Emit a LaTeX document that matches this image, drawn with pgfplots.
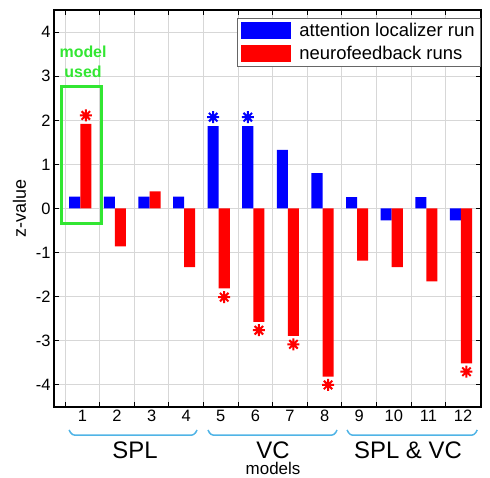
\documentclass[border=0pt]{standalone}
\usepackage{pgfplots}
\pgfplotsset{compat=1.18}
\usepackage{fontspec}
\setmainfont{Liberation Sans}

\definecolor{barblue}{RGB}{0,0,255}
\definecolor{barred}{RGB}{255,0,0}
\definecolor{boxgreen}{RGB}{50,230,50}
\definecolor{bracecyan}{RGB}{80,180,230}
\definecolor{gridgray}{RGB}{215,215,215}

% matlab-like 8-spoke asterisk
\pgfdeclareplotmark{matstar}{%
  \pgfpathmoveto{\pgfqpoint{\pgfplotmarksize}{0pt}}%
  \pgfpathlineto{\pgfqpoint{-\pgfplotmarksize}{0pt}}%
  \pgfpathmoveto{\pgfqpoint{0pt}{\pgfplotmarksize}}%
  \pgfpathlineto{\pgfqpoint{0pt}{-\pgfplotmarksize}}%
  \pgfpathmoveto{\pgfqpoint{.7071\pgfplotmarksize}{.7071\pgfplotmarksize}}%
  \pgfpathlineto{\pgfqpoint{-.7071\pgfplotmarksize}{-.7071\pgfplotmarksize}}%
  \pgfpathmoveto{\pgfqpoint{-.7071\pgfplotmarksize}{.7071\pgfplotmarksize}}%
  \pgfpathlineto{\pgfqpoint{.7071\pgfplotmarksize}{-.7071\pgfplotmarksize}}%
  \pgfusepathqstroke}

\begin{document}
\begin{tikzpicture}
\begin{axis}[
    scale only axis,
    width=427bp, height=397bp,
    xmin=0.18, xmax=12.52,
    ymin=-4.5, ymax=4.5,
    xtick={1,...,12},
    major x tick style={draw=none},
    minor xtick={0.5,1.5,...,12.5},
    ytick={-4,...,4},
    xminorgrids, ymajorgrids,
    major grid style={gridgray, line width=1bp},
    minor grid style={gridgray, line width=1bp},
    axis line style={line width=1.2bp},
    tick style={black, line width=1bp},
    major tick length=5bp, minor tick length=5bp,
    ticklabel style={font=\fontsize{16.5}{16.5}\selectfont},
    /pgf/number format/assume math mode=true,
    ylabel={z-value},
    ylabel style={font=\fontsize{18}{18}\selectfont, yshift=3bp},
    clip=false,
    legend style={
      at={(1,0.98)}, anchor=north east,
      font=\fontsize{18.5}{18.5}\selectfont,
      draw=black!60, line width=0.8bp,
      inner xsep=4bp, inner ysep=3bp,
      row sep=4bp,
      cells={anchor=west},
      /tikz/every odd column/.style={column sep=6bp},
    },
]

  % attention localizer run
  \addplot[ybar, bar width=0.32, bar shift=-0.22, fill=barblue, draw=none,
    legend image code/.code={\fill[barblue] (0bp,-8.5bp) rectangle (50bp,8.5bp);}]
  coordinates {
    (1,0.27) (2,0.27) (3,0.27) (4,0.27) (5,1.87) (6,1.87)
    (7,1.33) (8,0.80) (9,0.26) (10,-0.27) (11,0.26) (12,-0.27)
  };

  % neurofeedback runs
  \addplot[ybar, bar width=0.32, bar shift=0.10, fill=barred, draw=none,
    legend image code/.code={\fill[barred] (0bp,-8.5bp) rectangle (50bp,8.5bp);}]
  coordinates {
    (1,1.92) (2,-0.86) (3,0.39) (4,-1.33) (5,-1.81) (6,-2.57)
    (7,-2.89) (8,-3.81) (9,-1.18) (10,-1.33) (11,-1.65) (12,-3.51)
  };

  % significance markers
  \addplot[only marks, mark=matstar, mark size=6bp, barred, line width=2bp, forget plot]
  coordinates {
    (1.10,2.11) (5.10,-2.01) (6.10,-2.76) (7.10,-3.08) (8.10,-4.00) (12.10,-3.70)
  };
  \addplot[only marks, mark=matstar, mark size=6bp, barblue, line width=2bp, forget plot]
  coordinates {(4.78,2.07) (5.78,2.07)};

  \legend{attention localizer run, neurofeedback runs}

  % "model used" box
  \draw[boxgreen, line width=3bp] (axis cs:0.384,-0.35) rectangle (axis cs:1.54,2.76);
  \node[boxgreen, font=\bfseries\fontsize{16}{16}\selectfont] at (axis cs:1.02,3.55) {model};
  \node[boxgreen, font=\bfseries\fontsize{16}{16}\selectfont] at (axis cs:1.02,3.11) {used};

  % group brackets
  \draw[bracecyan, line width=1.5bp, rounded corners=3bp]
    (axis cs:0.616,-5.02) -- (axis cs:0.70,-5.14) -- (axis cs:4.23,-5.14) -- (axis cs:4.315,-5.02);
  \draw[bracecyan, line width=1.5bp, rounded corners=3bp]
    (axis cs:4.63,-5.02) -- (axis cs:4.71,-5.14) -- (axis cs:8.28,-5.14) -- (axis cs:8.36,-5.02);
  \draw[bracecyan, line width=1.5bp, rounded corners=3bp]
    (axis cs:8.65,-5.02) -- (axis cs:8.73,-5.14) -- (axis cs:12.33,-5.14) -- (axis cs:12.41,-5.02);
  \node[inner sep=0pt, font=\fontsize{24}{24}\selectfont] at (axis cs:2.52,-5.47) {SPL};
  \node[inner sep=0pt, font=\fontsize{24}{24}\selectfont] at (axis cs:6.51,-5.47) {VC};
  \node[inner sep=0pt, font=\fontsize{24}{24}\selectfont] at (axis cs:10.41,-5.47) {SPL \& VC};
  \node[inner sep=0pt, font=\fontsize{17}{17}\selectfont] at (axis cs:6.51,-5.90) {models};
\end{axis}
\pgfresetboundingbox
\path (current axis.south west) ++(-54bp,-71bp) rectangle ++(490bp,478bp);
\end{tikzpicture}
\end{document}
